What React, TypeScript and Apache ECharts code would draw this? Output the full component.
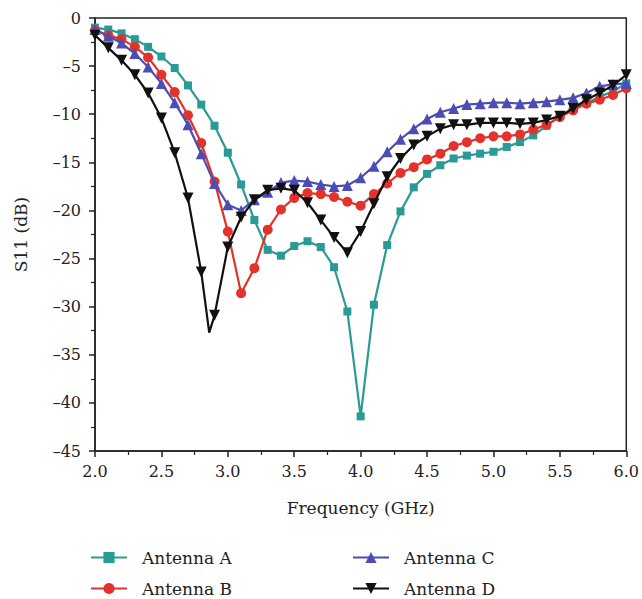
import React, { useEffect, useRef } from "react";
import * as echarts from "echarts";

const freq = [2.0, 2.1, 2.2, 2.3, 2.4, 2.5, 2.6, 2.7, 2.8, 2.9, 3.0, 3.1, 3.2, 3.3, 3.4, 3.5, 3.6, 3.7, 3.8, 3.9, 4.0, 4.1, 4.2, 4.3, 4.4, 4.5, 4.6, 4.7, 4.8, 4.9, 5.0, 5.1, 5.2, 5.3, 5.4, 5.5, 5.6, 5.7, 5.8, 5.9, 6.0];

const antennaA = [-1.0, -1.2, -1.6, -2.2, -3.0, -4.0, -5.2, -7.0, -9.0, -11.2, -14.0, -17.3, -21.0, -24.1, -24.7, -23.7, -23.2, -23.8, -25.9, -30.5, -41.4, -29.8, -23.6, -20.1, -17.6, -16.2, -15.3, -14.6, -14.3, -14.1, -13.9, -13.4, -12.9, -12.2, -11.2, -10.2, -9.4, -8.8, -8.2, -7.6, -6.8];
const antennaB = [-1.3, -1.8, -2.2, -3.0, -4.1, -5.9, -7.7, -10.1, -13.0, -17.0, -22.2, -28.6, -26.0, -22.0, -19.9, -18.7, -18.2, -18.3, -18.6, -19.1, -19.5, -18.3, -17.2, -16.1, -15.5, -14.7, -14.1, -13.3, -12.9, -12.5, -12.3, -12.3, -12.1, -11.6, -11.1, -10.3, -9.6, -8.9, -8.5, -8.0, -7.3];
const antennaC = [-1.2, -1.9, -2.6, -3.7, -5.1, -6.8, -8.8, -11.1, -14.1, -17.2, -19.4, -20.0, -18.9, -18.1, -17.1, -16.9, -17.0, -17.3, -17.5, -17.4, -16.6, -15.4, -13.9, -12.6, -11.5, -10.5, -9.8, -9.4, -9.0, -8.9, -8.8, -8.8, -8.9, -8.8, -8.7, -8.5, -8.3, -7.8, -7.1, -6.9, -6.8];
const antennaD = [-1.8, -3.1, -4.4, -5.9, -7.8, -10.4, -14.0, -18.7, -26.4, -30.9, -23.8, -20.7, -18.9, -17.9, -17.7, -17.9, -19.2, -21.0, -22.8, -24.4, -22.2, -19.3, -16.5, -14.6, -13.2, -12.3, -11.5, -11.1, -11.1, -10.9, -10.9, -10.9, -11.0, -10.9, -10.6, -10.2, -9.4, -8.5, -7.8, -7.0, -5.9];
// curve minimum between samples (no marker)
const antennaDDip = [2.86, -32.7];

const seriesNames = ["Antenna A", "Antenna B", "Antenna C", "Antenna D"];
const colors = ["#2a9a94", "#e3322b", "#4b4db3", "#111111"];
const symbols = ["rect", "circle", "triangle", "path://M0,0 L10,0 L5,9 Z"];
const symbolSizes = [8, 10, 11, 11];

const FONT = "'DejaVu Serif', serif";

export default function App() {
  const ref = useRef<HTMLDivElement>(null);
  useEffect(() => {
    if (!ref.current) return;
    const chart = echarts.init(ref.current, null, { renderer: "svg" });
    const allData = [antennaA, antennaB, antennaC, antennaD];
    const series = allData.map((vals, i) => {
      let data: any[] = freq.map((f, k) => [f, vals[k]]);
      if (i === 3) {
        data.push({ value: antennaDDip, symbol: "none" });
        data.sort((a: any, b: any) => {
          const ax = Array.isArray(a) ? a[0] : a.value[0];
          const bx = Array.isArray(b) ? b[0] : b.value[0];
          return ax - bx;
        });
      }
      return {
        name: seriesNames[i],
        type: "line",
        data,
        symbol: symbols[i],
        symbolSize: symbolSizes[i],
        showAllSymbol: true,
        smooth: false,
        lineStyle: { color: colors[i], width: 2.2 },
        itemStyle: { color: colors[i] },
        z: 2 + i,
      };
    });
    const dash = (v: number) => String(v).replace("-", "\u2013");
    const legendPos = [
      [90, 549],
      [90, 580],
      [352, 549],
      [352, 580],
    ];
    const legends = seriesNames.map((n, i) => ({
      data: [n],
      orient: "horizontal",
      left: legendPos[i][0],
      top: legendPos[i][1],
      padding: 0,
      itemWidth: 36,
      itemHeight: 14,
      textStyle: { fontFamily: FONT, fontSize: 17, color: "#222", padding: [0, 0, 0, 10] },
    }));
    chart.setOption({
      animation: false,
      backgroundColor: "#ffffff",
      textStyle: { fontFamily: FONT },
      grid: {
        left: 95,
        right: 12,
        top: 18,
        bottom: 148,
        show: true,
        borderColor: "#222",
        borderWidth: 1.5,
        backgroundColor: "transparent",
      },
      legend: legends,
      xAxis: {
        type: "value",
        min: 2,
        max: 6,
        interval: 0.5,
        name: "Frequency (GHz)",
        nameLocation: "middle",
        nameGap: 48,
        nameTextStyle: { fontFamily: FONT, fontSize: 17, color: "#222" },
        axisLine: { show: true, onZero: false, lineStyle: { color: "#222", width: 1.5 } },
        axisTick: { show: true, length: 6, lineStyle: { color: "#222", width: 1.5 } },
        minorTick: { show: true, splitNumber: 2, length: 4, lineStyle: { color: "#222", width: 1.2 } },
        splitLine: { show: false },
        axisLabel: {
          fontFamily: FONT,
          fontSize: 16,
          color: "#222",
          margin: 12,
          formatter: (v: number) => v.toFixed(1),
        },
      },
      yAxis: {
        type: "value",
        min: -45,
        max: 0,
        interval: 5,
        name: "S11 (dB)",
        nameLocation: "middle",
        nameGap: 66,
        nameRotate: 90,
        nameTextStyle: { fontFamily: FONT, fontSize: 17, color: "#222" },
        axisLine: { show: true, onZero: false, lineStyle: { color: "#222", width: 1.5 } },
        axisTick: { show: true, length: 6, lineStyle: { color: "#222", width: 1.5 } },
        minorTick: { show: true, splitNumber: 2, length: 4, lineStyle: { color: "#222", width: 1.2 } },
        splitLine: { show: false },
        axisLabel: {
          fontFamily: FONT,
          fontSize: 16,
          color: "#222",
          margin: 14,
          formatter: (v: number) => dash(v),
        },
      },
      series,
    });
    return () => chart.dispose();
  }, []);
  return <div ref={ref} style={{ width: 642, height: 599, position: "absolute", left: 0, top: 0 }} />;
}
